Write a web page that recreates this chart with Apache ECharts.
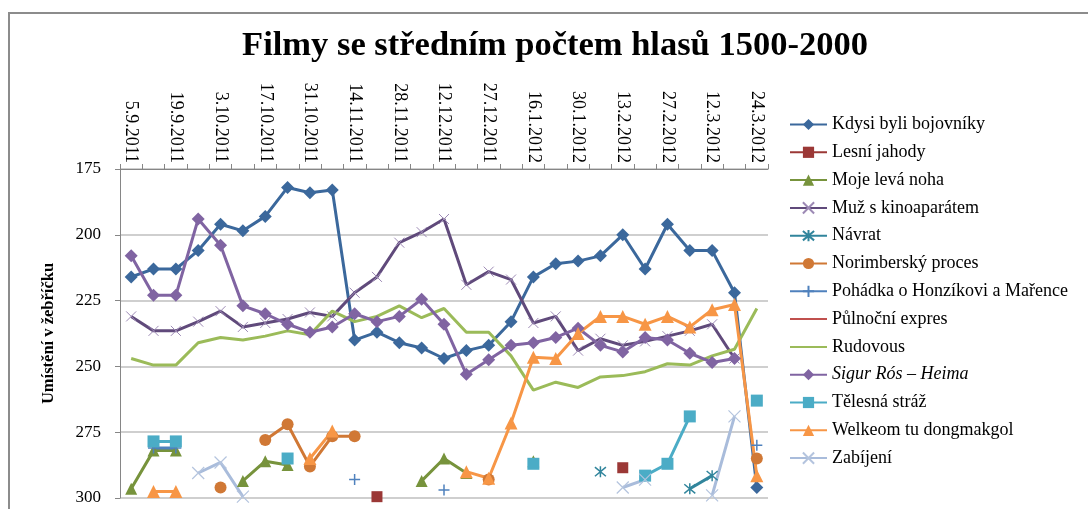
<!DOCTYPE html>
<html><head><meta charset="utf-8">
<script src="https://cdn.jsdelivr.net/npm/echarts@6/dist/echarts.min.js"></script>
<style>html,body{margin:0;padding:0;background:#fff}#c{width:1088px;height:509px}</style>
</head><body><div id="c"></div>
<script>
const categories = ['5.9.2011','12.9.2011','19.9.2011','26.9.2011','3.10.2011','10.10.2011','17.10.2011','24.10.2011','31.10.2011','7.11.2011','14.11.2011','21.11.2011','28.11.2011','5.12.2011','12.12.2011','19.12.2011','27.12.2011','9.1.2012','16.1.2012','23.1.2012','30.1.2012','6.2.2012','13.2.2012','20.2.2012','27.2.2012','5.3.2012','12.3.2012','19.3.2012','24.3.2012'];
const _ = null;
const kdysi      = [216,213,213,206,196,198.5,193,182,184,183,240,237,241,243,247,244,242,233,216,211,210,208,200,213,196,206,206,222,296];
const lesni      = [_,_,_,_,_,_,_,_,_,_,_,299.5,_,_,_,_,_,_,_,_,_,_,288.5,_,_,_,_,_,_];
const moje       = [296.5,282,282,_,_,293.5,286,287.5,_,_,_,_,_,293.5,285,290.5,_,_,286,_,_,_,_,_,_,_,_,_,_];
const muz        = [231,236.5,236.5,233,229,235,233.5,232,229.5,231,222,216,203,199,194,219,214,217,233.5,231,244,239.5,242,240.5,238.5,236.5,234,247,_];
const navrat     = [_,_,_,_,_,_,_,_,_,_,_,_,_,_,_,_,_,_,_,_,_,290,_,_,_,296.5,291.5,_,_];
const norimbersky= [_,_,_,_,296,_,278,272,288,276.5,276.5,_,_,_,_,_,293,_,_,_,_,_,_,_,_,_,_,_,285];
const pohadka    = [_,281,281,_,_,_,_,_,_,_,293,_,_,_,297,_,_,_,_,_,_,_,_,_,_,_,_,_,280];
const pulnocni   = [_,_,_,_,_,_,_,_,_,_,_,_,_,_,_,_,_,_,_,_,_,_,_,_,_,_,_,_,297];
const rudovous   = [247,249.5,249.5,241,239,240,238.5,236.5,238,229,233,231,227,231.5,228,237,237,246,259,256,258,254,253.5,252,249,249.5,246,243.5,228];
const sigur      = [208,223,223,194,204,227,230,234,237,235,230,233,231,224.5,234,253,247.5,242,241,239,235.5,242,244.5,239,240,245,248.5,247,_];
const telesna    = [_,278.5,278.5,_,_,_,_,285,_,_,_,_,_,_,_,_,_,_,287,_,_,_,_,291.5,287,269,_,_,263];
const welkeom    = [_,297.5,297.5,_,_,_,_,_,285,274.5,_,_,_,_,_,290,292.5,271.5,246.5,247,237.5,231,231,234,231,235,228.5,226.5,291.5];
const zabijeni   = [_,_,_,290.5,286.5,299.5,_,_,_,_,_,_,_,_,_,_,_,_,_,_,_,_,296,293,_,_,299,269,_];
const yTicks = [175,200,225,250,275,300];

const X = 'path://M0,0L10,10M0,10L10,0';
const STAR = 'path://M0,0L10,10M0,10L10,0M5,-1L5,11';
const PLUS = 'path://M5,0L5,10M0,5L10,5';

function s(name, data, color, symbol, size, extra) {
  const o = {
    name, type: 'line', data, connectNulls: false, showAllSymbol: true,
    symbol, symbolSize: size, lineStyle: { width: 3, color },
    itemStyle: { color }, emphasis: { disabled: true }, animation: false
  };
  if (extra) Object.assign(o, extra);
  return o;
}
const stroke = (c, w) => ({ itemStyle: { color: c, borderColor: c, borderWidth: w || 1.5 } });

const serif = '"Liberation Serif", "DejaVu Serif", serif';
const series = [
  s('Kdysi byli bojovníky', kdysi, '#3b689c', 'diamond', 13),
  s('Lesní jahody', lesni, '#9b3836', 'rect', 11),
  s('Moje levá noha', moje, '#77933c', 'triangle', 12),
  s('Muž s kinoaparátem', muz, '#604a7b', X, 10, stroke('#9d8ab5', 1)),
  s('Návrat', navrat, '#31859c', STAR, 11, stroke('#31859c', 1.5)),
  s('Norimberský proces', norimbersky, '#d07835', 'circle', 12),
  s('Pohádka o Honzíkovi a Mařence', pohadka, '#4f81bd', PLUS, 11, stroke('#4f81bd', 1.5)),
  s('Půlnoční expres', pulnocni, '#c0504d', 'none', 0),
  s('Rudovous', rudovous, '#9bbb59', 'none', 0),
  s('Sigur Rós – Heima', sigur, '#8064a2', 'diamond', 13),
  s('Tělesná stráž', telesna, '#4bacc6', 'rect', 12),
  s('Welkeom tu dongmakgol', welkeom, '#f79646', 'triangle', 13),
  s('Zabíjení', zabijeni, '#a9bcdb', X, 12, stroke('#b4c4de', 1.2))
];
const legendData = series.map(se => se.symbol === 'none'
  ? { name: se.name, itemStyle: { opacity: 0 } }
  : { name: se.name });

const chart = echarts.init(document.getElementById('c'));
chart.setOption({
  animation: false,
  backgroundColor: '#fff',
  graphic: [{ type: 'rect', shape: { x: 9, y: 13, width: 1200, height: 600 }, style: { fill: 'none', stroke: '#8c8c8c', lineWidth: 2 }, silent: true }],
  title: { text: 'Filmy se středním počtem hlasů 1500-2000', left: 550, textAlign: 'center', top: 24,
    textStyle: { fontFamily: serif, fontSize: 34.5, fontWeight: 'bold', color: '#000' } },
  grid: { left: 120, top: 169, width: 648, height: 329, containLabel: false },
  legend: {
    data: legendData,
    orient: 'vertical', left: 784, top: 110.5, itemWidth: 37, itemHeight: 14, itemGap: 9.8,
    textStyle: { fontFamily: serif, fontSize: 18, color: '#000', lineHeight: 14,
      rich: { i: { fontFamily: serif, fontSize: 18, fontStyle: 'italic', color: '#000', lineHeight: 14 } } },
    formatter: n => n.indexOf('Sigur') === 0 ? '{i|' + n + '}' : n
  },
  xAxis: {
    type: 'category', data: categories, position: 'top', boundaryGap: true,
    axisLine: { show: true, lineStyle: { color: '#868686', width: 1 } },
    axisTick: { show: true, interval: 0, length: 5, lineStyle: { color: '#868686' } },
    axisLabel: { interval: 1, rotate: 90, fontFamily: serif, fontSize: 18, color: '#000', margin: 6 },
    splitLine: { show: false }
  },
  yAxis: {
    type: 'value', inverse: true, min: 175, max: 300, interval: 25,
    name: 'Umístění v žebříčku', nameLocation: 'middle', nameRotate: 90, nameGap: 63,
    nameTextStyle: { fontFamily: serif, fontSize: 16.5, fontWeight: 'bold', color: '#000' },
    axisLine: { show: true, lineStyle: { color: '#868686', width: 1 } },
    axisTick: { show: true, length: 5, lineStyle: { color: '#868686' } },
    axisLabel: { fontFamily: serif, fontSize: 17, color: '#000', margin: 19,
      formatter: v => yTicks.indexOf(v) >= 0 ? String(v) : '' },
    splitLine: { show: true, lineStyle: { color: '#bfbfbf', width: 1.5 } }
  },
  series
});
</script></body></html>
